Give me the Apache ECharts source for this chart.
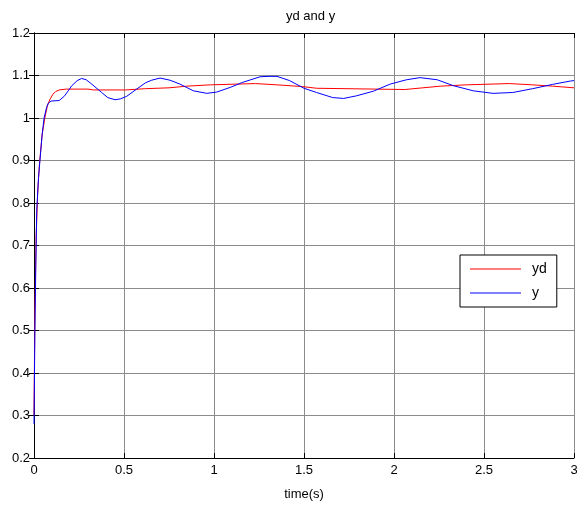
<!DOCTYPE html>
<html>
<head>
<meta charset="utf-8">
<script src="https://cdn.jsdelivr.net/npm/echarts@6/dist/echarts.min.js"></script>
<style>html,body{margin:0;padding:0;background:#fff;overflow:hidden}#c{width:577px;height:506px}</style>
</head>
<body>
<div id="c"></div>
<script>
const xTicks = [0, 0.5, 1, 1.5, 2, 2.5, 3];
const yTicks = [0.2, 0.3, 0.4, 0.5, 0.6, 0.7, 0.8, 0.9, 1, 1.1, 1.2];

const ydTime = [0,0.005,0.012,0.02,0.03,0.045,0.06,0.075,0.09,0.105,0.12,0.14,0.18,0.3,0.33,0.51,0.52,0.62,0.63,0.75,0.76,0.85,0.86,0.98,0.99,1.23,1.24,1.35,1.36,1.49,1.5,1.57,1.58,2.06,2.07,2.16,2.17,2.26,2.27,2.4,2.41,2.64,2.65,2.77,2.78,2.88,2.89,3];
const ydValue = [0.3,0.55,0.72,0.82,0.89,0.96,1.0,1.03,1.045,1.056,1.062,1.066,1.068,1.068,1.066,1.066,1.069,1.069,1.071,1.071,1.075,1.075,1.078,1.078,1.081,1.081,1.078,1.078,1.074,1.074,1.070,1.070,1.067,1.067,1.071,1.071,1.075,1.075,1.078,1.078,1.081,1.081,1.078,1.078,1.075,1.075,1.071,1.071];

const yTime = [0,0.005,0.01,0.015,0.025,0.033,0.045,0.056,0.07,0.08,0.095,0.14,0.17,0.21,0.24,0.265,0.29,0.32,0.376,0.41,0.45,0.48,0.515,0.57,0.62,0.654,0.70,0.755,0.81,0.885,0.96,1.015,1.09,1.16,1.256,1.3,1.35,1.42,1.5,1.57,1.66,1.72,1.79,1.885,1.98,2.07,2.144,2.24,2.33,2.44,2.55,2.66,2.77,2.88,2.98,3];
const yValue = [0.28,0.5,0.65,0.78,0.86,0.9,0.96,1.0,1.025,1.035,1.04,1.041,1.052,1.076,1.088,1.093,1.09,1.08,1.06,1.048,1.043,1.045,1.051,1.068,1.083,1.089,1.094,1.089,1.08,1.064,1.058,1.061,1.072,1.084,1.097,1.098,1.098,1.088,1.07,1.06,1.048,1.046,1.052,1.063,1.08,1.09,1.095,1.09,1.076,1.064,1.058,1.06,1.069,1.079,1.087,1.088];

const zip = (a, b) => a.map((t, i) => [t, b[i]]);
const font = 'Liberation Sans, Arial, sans-serif';

const chart = echarts.init(document.getElementById('c'), null, {renderer: 'canvas', width: 577, height: 506});
const baseX = {
  type: 'value', min: xTicks[0], max: xTicks[xTicks.length - 1], interval: 0.5,
  axisLine: {show: true, lineStyle: {color: '#000', width: 1}},
  axisTick: {show: true, inside: true, length: 5, lineStyle: {color: '#000'}},
  splitLine: {show: false}
};
const baseY = {
  type: 'value', min: yTicks[0], max: yTicks[yTicks.length - 1], interval: 0.1,
  axisLine: {show: true, lineStyle: {color: '#000', width: 1}},
  axisTick: {show: true, inside: true, length: 5, lineStyle: {color: '#000'}},
  splitLine: {show: false}
};
const lineIcon = 'path://M0,0L100,0L100,2L0,2Z';
chart.setOption({
  animation: false,
  backgroundColor: '#fff',
  title: {
    text: 'yd and y', left: 281, top: 5,
    textStyle: {fontFamily: font, fontSize: 13, fontWeight: 'normal', color: '#000'}
  },
  grid: {left: 34, top: 33, width: 540, height: 425, show: false, outerBoundsMode: 'none', containLabel: false},
  legend: {
    left: 460, top: 255, orient: 'vertical',
    data: [{name: 'yd', icon: lineIcon}, {name: 'y', icon: lineIcon}],
    backgroundColor: '#fff', borderColor: '#000', borderWidth: 1,
    padding: [7, 10, 7, 10], itemWidth: 51, itemHeight: 14, itemGap: 10,
    textStyle: {fontFamily: font, fontSize: 14, color: '#000', padding: [0, 0, 0, 6]}
  },
  xAxis: [
    Object.assign({}, baseX, {
      position: 'bottom',
      name: 'time(s)', nameLocation: 'middle', nameGap: 30,
      nameTextStyle: {fontFamily: font, fontSize: 13, color: '#000'},
      axisLabel: {fontFamily: font, fontSize: 13, color: '#000', margin: 6},
      splitLine: {show: true, lineStyle: {color: '#8c8c8c', width: 1}}
    }),
    Object.assign({}, baseX, {position: 'top', axisLabel: {show: false}})
  ],
  yAxis: [
    Object.assign({}, baseY, {
      position: 'left',
      axisLabel: {fontFamily: font, fontSize: 13, color: '#000', margin: 4},
      splitLine: {show: true, lineStyle: {color: '#8c8c8c', width: 1}}
    }),
    Object.assign({}, baseY, {position: 'right', axisLabel: {show: false}})
  ],
  series: [
    {name: 'yd', type: 'line', data: zip(ydTime, ydValue), showSymbol: false, symbol: 'none',
     lineStyle: {color: '#ff0000', width: 1}, itemStyle: {color: '#ff0000'}},
    {name: 'y', type: 'line', data: zip(yTime, yValue), showSymbol: false, symbol: 'none',
     lineStyle: {color: '#0000ff', width: 1}, itemStyle: {color: '#0000ff'}}
  ]
});
</script>
</body>
</html>
